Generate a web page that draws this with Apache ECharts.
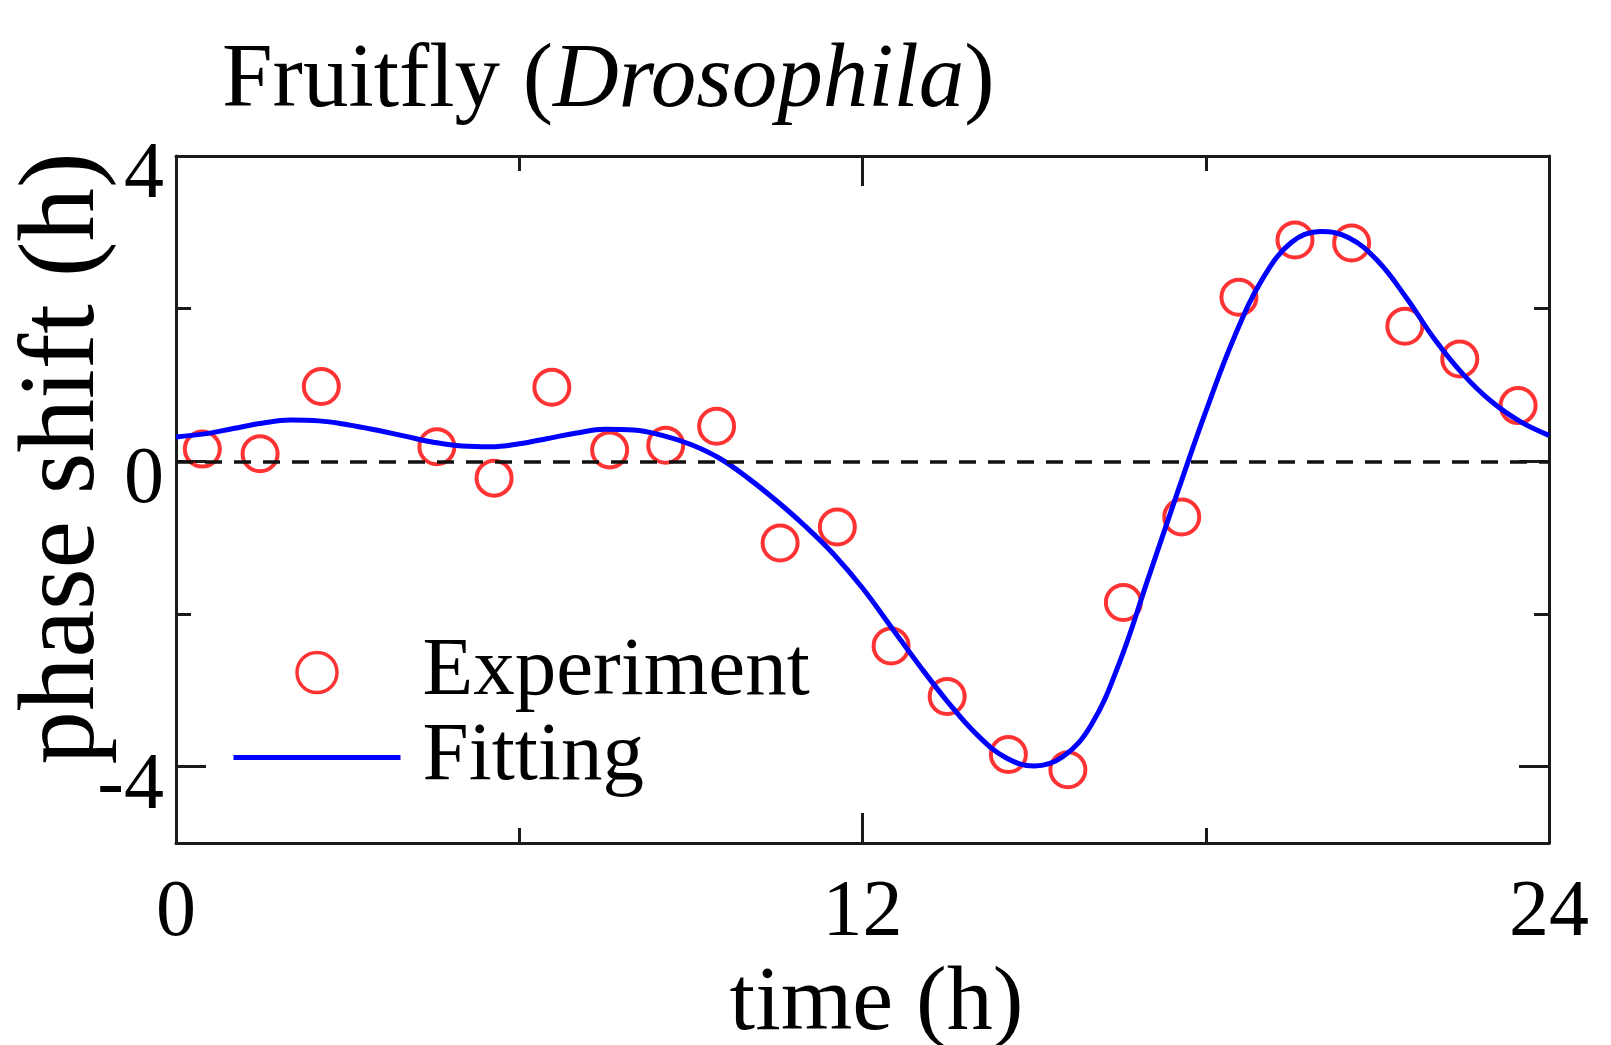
<!DOCTYPE html>
<html>
<head>
<meta charset="utf-8">
<script src="https://cdn.jsdelivr.net/npm/echarts@6/dist/echarts.min.js"></script>
<style>
html,body{margin:0;padding:0;background:#fff;}
#chart{width:1611px;height:1045px;}
</style>
</head>
<body>
<div id="chart"></div>
<script>
// Experiment (circles)
const expHours = [0.46, 1.47, 2.54, 4.56, 5.56, 6.57, 7.58, 8.56, 9.45, 10.56, 11.56, 12.5, 13.48, 14.55, 15.59, 16.56, 17.58, 18.58, 19.56, 20.55, 21.48, 22.44, 23.46];
const expShift = [0.16, 0.10, 0.98, 0.19, -0.22, 0.97, 0.15, 0.21, 0.46, -1.07, -0.86, -2.42, -3.08, -3.84, -4.04, -1.85, -0.73, 2.15, 2.90, 2.86, 1.77, 1.34, 0.73];
// Fitting curve, read every half hour
const fitHours = [0,0.5,1,1.5,2,2.5,3,3.5,4,4.5,5,5.5,6,6.5,7,7.5,8,8.5,9,9.5,10,10.5,11,11.5,12,12.5,13,13.5,14,14.5,15,15.5,16,16.5,17,17.5,18,18.5,19,19.5,20,20.5,21,21.5,22,22.5,23,23.5,24];
const fitShift = [0.32,0.36,0.43,0.5,0.54,0.53,0.48,0.41,0.33,0.25,0.2,0.19,0.23,0.3,0.37,0.42,0.41,0.34,0.22,0.04,-0.22,-0.52,-0.85,-1.22,-1.66,-2.17,-2.68,-3.16,-3.58,-3.88,-3.99,-3.87,-3.45,-2.62,-1.52,-0.42,0.65,1.63,2.4,2.87,3.01,2.93,2.63,2.15,1.6,1.14,0.78,0.52,0.34];
// Ticks
const xMajorTicks = [0, 12, 24];
const xMinorTicks = [6, 18];
const yMajorTicks = [-4, 0, 4];
const yMinorTicks = [-2, 2];
const xRange = [0, 24];
const yRange = [-5, 4];

const FONT = '"Liberation Serif", "Times New Roman", serif';
const AX = '#1a1a1a';

function xAx(pos, ticks, len, showLine, labels) {
  return {
    type: 'value', position: pos, min: xRange[0], max: xRange[1],
    axisLine: { show: showLine, onZero: false, lineStyle: { color: AX, width: 3 } },
    axisTick: { show: true, inside: true, length: len, customValues: ticks, lineStyle: { color: AX, width: 3 } },
    axisLabel: labels ? { show: true, customValues: labels, margin: 31, color: '#000', fontFamily: FONT, fontSize: 80 } : { show: false },
    splitLine: { show: false }
  };
}
function yAx(pos, ticks, len, showLine, labels) {
  return {
    type: 'value', position: pos, min: yRange[0], max: yRange[1],
    axisLine: { show: showLine, onZero: false, lineStyle: { color: AX, width: 3 } },
    axisTick: { show: true, inside: true, length: len, customValues: ticks, lineStyle: { color: AX, width: 3 } },
    axisLabel: labels ? { show: true, customValues: labels, margin: 12, color: '#000', fontFamily: FONT, fontSize: 80, verticalAlign: 'top', lineHeight: 40 } : { show: false },
    splitLine: { show: false }
  };
}

const xBottom = xAx('bottom', xMajorTicks, 30, true, xMajorTicks);
xBottom.name = 'time (h)';
xBottom.nameLocation = 'middle';
xBottom.nameGap = 113;
xBottom.nameTextStyle = { fontFamily: FONT, fontSize: 92, color: '#000', padding: [0, 0, 0, 28] };

const yLeft = yAx('left', yMajorTicks, 30, true, yMajorTicks);
yLeft.name = 'phase shift (h)';
yLeft.nameLocation = 'middle';
yLeft.nameRotate = 90;
yLeft.nameGap = 58;
yLeft.nameMoveOverlap = false;
yLeft.nameTextStyle = { fontFamily: FONT, fontSize: 107, color: '#000', padding: [0, 0, 0, 82] };

const option = {
  backgroundColor: '#fff',
  animation: false,
  title: {
    text: '{n|Fruitfly (}{i|Drosophila}{n|)}',
    left: 222, top: 37, padding: 0,
    textStyle: {
      fontWeight: 'normal',
      rich: {
        n: { fontFamily: FONT, fontSize: 91, fontWeight: 'normal', color: '#000' },
        i: { fontFamily: FONT, fontSize: 91, fontWeight: 'normal', fontStyle: 'italic', color: '#000' }
      }
    }
  },
  grid: { left: 176, top: 156, right: 62, bottom: 202, containLabel: false, outerBoundsMode: 'none' },
  legend: {
    orient: 'vertical', left: 231, top: 630, itemWidth: 167, itemHeight: 40, itemGap: 0,
    padding: 0, selectedMode: false,
    textStyle: { fontFamily: FONT, fontSize: 83, color: '#000', lineHeight: 77, padding: [8, 0, 0, 17] },
    data: [
      { name: 'Experiment', icon: 'circle', itemStyle: { color: 'rgba(0,0,0,0)', borderColor: '#ff0000', borderWidth: 3.5 } },
      { name: 'Fitting', itemStyle: { color: 'rgba(0,0,0,0)', borderColor: 'rgba(0,0,0,0)', borderWidth: 0, opacity: 0 }, lineStyle: { color: '#0000ff', width: 5 } }
    ]
  },
  xAxis: [xBottom, xAx('bottom', xMinorTicks, 15, false, null), xAx('top', xMajorTicks, 30, true, null), xAx('top', xMinorTicks, 15, false, null)],
  yAxis: [yLeft, yAx('left', yMinorTicks, 15, false, null), yAx('right', yMajorTicks, 30, true, null), yAx('right', yMinorTicks, 15, false, null)],
  series: [
    {
      name: 'Experiment', type: 'scatter', xAxisIndex: 0, yAxisIndex: 0,
      symbol: 'circle', symbolSize: 35,
      itemStyle: { color: 'rgba(255,255,255,0)', borderColor: '#ff0000', borderWidth: 4 },
      data: expHours.map((h, i) => [h, expShift[i]]),
      z: 2
    },
    {
      name: 'Fitting', type: 'line', xAxisIndex: 0, yAxisIndex: 0,
      smooth: 0.4, symbol: 'none', showSymbol: false,
      lineStyle: { color: '#0000ff', width: 5 },
      itemStyle: { color: '#0000ff' },
      data: fitHours.map((h, i) => [h, fitShift[i]]),
      markLine: {
        silent: true, symbol: 'none', label: { show: false },
        lineStyle: { color: '#111', width: 3.5, type: [17, 12] },
        data: [{ yAxis: 0 }]
      },
      z: 3
    }
  ]
};
const chart = echarts.init(document.getElementById('chart'), null, { renderer: 'canvas' });
chart.setOption(option);
</script>
</body>
</html>
